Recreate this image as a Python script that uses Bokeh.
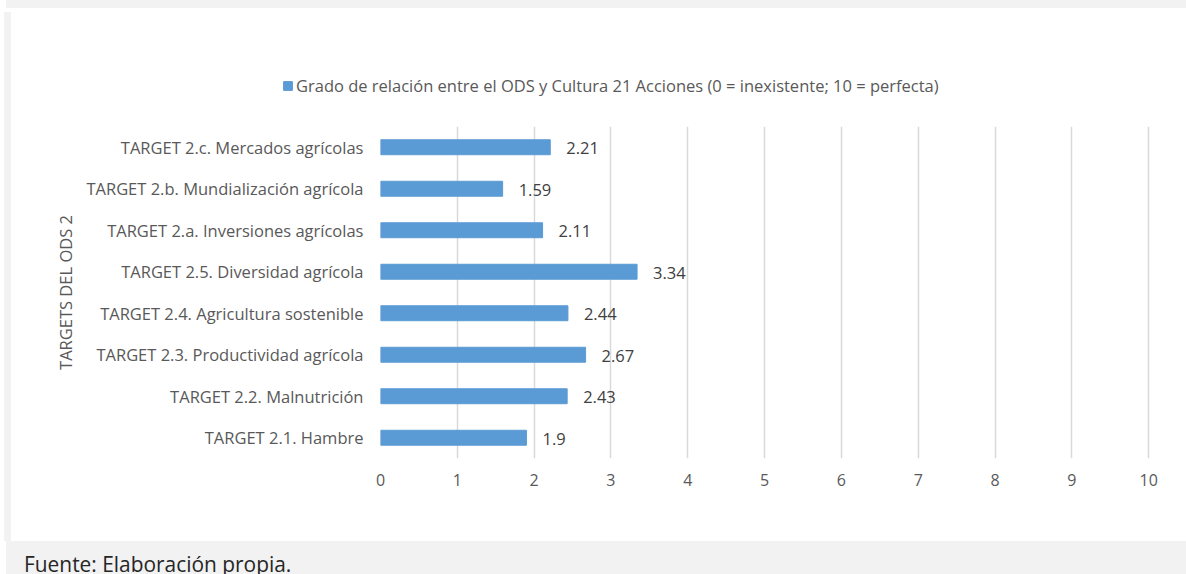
from bokeh.plotting import figure
from bokeh.models import (FactorRange, Range1d, Div, ColumnDataSource, FixedTicker,
                          Legend, LegendItem)
from bokeh.layouts import column, row
from bokeh.core.properties import value
from bokeh.embed import file_html
from bokeh.resources import INLINE

# ---- data (bottom to top) ----
categories = [
    "TARGET 2.1. Hambre",
    "TARGET 2.2. Malnutrición",
    "TARGET 2.3. Productividad agrícola",
    "TARGET 2.4. Agricultura sostenible",
    "TARGET 2.5. Diversidad agrícola",
    "TARGET 2.a. Inversiones agrícolas",
    "TARGET 2.b. Mundialización agrícola",
    "TARGET 2.c. Mercados agrícolas",
]
values = [1.9, 2.43, 2.67, 2.44, 3.34, 2.11, 1.59, 2.21]
x_ticks = [0, 1, 2, 3, 4, 5, 6, 7, 8, 9, 10]
series_name = "Grado de relación entre el ODS y Cultura 21 Acciones (0 = inexistente; 10 = perfecta)"
y_title = "TARGETS DEL ODS 2"
source_note = "Fuente: Elaboración propia."

FONT = "Open Sans"
FS = "16.5px"
GREY_BG = "#f2f2f2"
BAR = "#5b9bd5"
TXT = "#595959"

src = ColumnDataSource(dict(cat=categories, val=values, lbl=[str(v) for v in values]))

# ---- legend strip (top of chart area) ----
leg_fig = figure(
    width=1175, height=100, x_range=Range1d(0, 1), y_range=Range1d(0, 1),
    x_axis_type=None, y_axis_type=None,
    output_backend="svg", toolbar_location=None,
    min_border=0, border_fill_color="white", background_fill_color="white",
    outline_line_color=None, frame_align=False,
)
# legend swatch renderer (placed far outside the visible ranges; only its legend entry shows)
leg_glyph = leg_fig.hbar(y=[-50], left=[-3], right=[-2], height=0.36,
                         fill_color=BAR, line_color=BAR)
lg = Legend(items=[LegendItem(label=series_name, renderers=[leg_glyph])],
            location=(271, 15), orientation="horizontal",
            margin=0, padding=0, border_line_color=None,
            background_fill_alpha=0, glyph_width=11, glyph_height=11,
            label_standoff=3, label_text_font=FONT,
            label_text_font_size=FS, label_text_color=TXT)
leg_fig.add_layout(lg, "center")

# ---- main bar chart ----
p = figure(
    width=1175, height=429,
    y_range=FactorRange(factors=categories),
    x_range=Range1d(0, 10.05),
    output_backend="svg", toolbar_location=None,
    min_border_left=369, min_border_right=34,
    min_border_top=14, min_border_bottom=83,
    border_fill_color="white", background_fill_color="white",
    outline_line_color=None, frame_align=False,
)

p.hbar(y="cat", right="val", left=0, height=0.36, source=src,
       fill_color=BAR, line_color=BAR)

p.text(x="val", y="cat", text="lbl", source=src, x_offset=16, y_offset=1,
       text_baseline="middle", text_align="left",
       text_font=value(FONT), text_font_size=FS, text_color="#404040")

p.xaxis.ticker = FixedTicker(ticks=x_ticks)
p.xaxis.axis_line_color = None
p.xaxis.major_tick_line_color = None
p.xaxis.minor_tick_line_color = None
p.xaxis.major_tick_out = 0
p.xaxis.major_label_standoff = 15
p.xaxis.major_label_text_font = FONT
p.xaxis.major_label_text_font_size = "16px"
p.xaxis.major_label_text_color = TXT

p.yaxis.axis_line_color = None
p.yaxis.major_tick_line_color = None
p.yaxis.major_tick_out = 0
p.yaxis.major_label_standoff = 17
p.yaxis.major_label_text_font = FONT
p.yaxis.major_label_text_font_size = FS
p.yaxis.major_label_text_color = TXT
p.yaxis.axis_label = y_title
p.yaxis.axis_label_standoff = 6
p.yaxis.axis_label_text_font = FONT
p.yaxis.axis_label_text_font_size = FS
p.yaxis.axis_label_text_font_style = "normal"
p.yaxis.axis_label_text_color = TXT

p.xgrid.grid_line_color = "#d9d9d9"
p.xgrid.grid_line_width = 1.5
p.ygrid.grid_line_color = None

# ---- surrounding page pieces ----
top_band = Div(text="", width=1180, height=8, margin=(0, 0, 4, 6),
               styles={"background-color": GREY_BG})
left_strip = Div(text="", width=7, height=529, margin=(0, 0, 0, 4),
                 styles={"background-color": GREY_BG})
bottom = Div(text=source_note, width=1180, height=33, margin=(0, 0, 0, 6),
             styles={"background-color": GREY_BG, "font-family": "Open Sans",
                     "font-size": "20.9px", "color": "#262626",
                     "padding-left": "18px", "padding-top": "11px",
                     "box-sizing": "border-box", "line-height": "1.2",
                     "overflow": "hidden"})

chart = column(leg_fig, p, spacing=0)
layout = column(top_band, row(left_strip, chart, spacing=0), bottom,
                spacing=0, width=1186, height=574,
                styles={"background-color": "white"})

open("out.html", "w").write(file_html(layout, INLINE))
